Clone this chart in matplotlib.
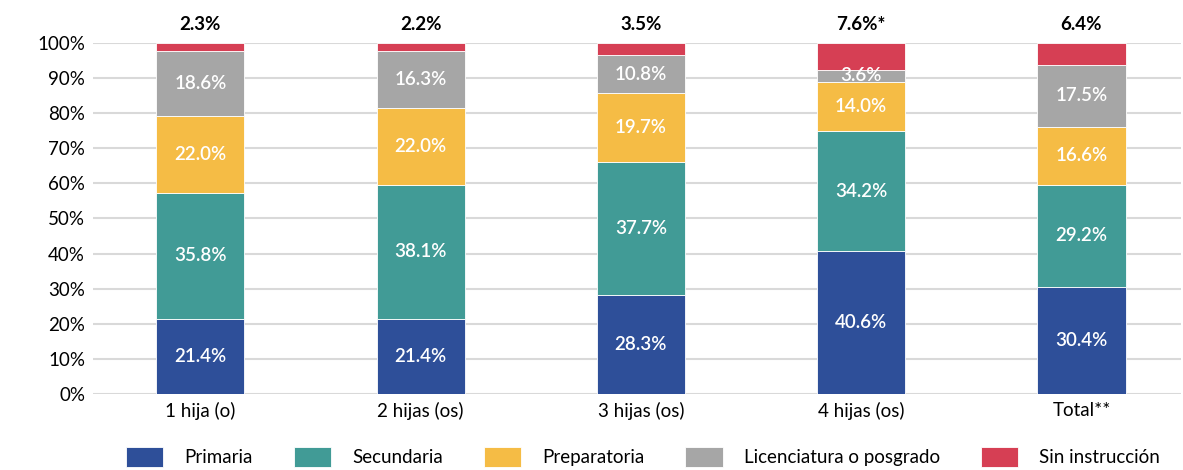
import matplotlib
matplotlib.use("Agg")
import matplotlib.pyplot as plt
import numpy as np

categorias = ["1 hija (o)", "2 hijas (os)", "3 hijas (os)", "4 hijas (os)", "Total**"]
primaria = [21.4, 21.4, 28.3, 40.6, 30.4]
secundaria = [35.8, 38.1, 37.7, 34.2, 29.2]
preparatoria = [22.0, 22.0, 19.7, 14.0, 16.6]
licenciatura = [18.6, 16.3, 10.8, 3.6, 17.5]
sin_instruccion = [2.3, 2.2, 3.5, 7.6, 6.4]
etiquetas_sup = ["2.3%", "2.2%", "3.5%", "7.6%*", "6.4%"]

series = [
    ("Primaria", primaria, "#2e4f99"),
    ("Secundaria", secundaria, "#419b96"),
    ("Preparatoria", preparatoria, "#f5bc45"),
    ("Licenciatura o posgrado", licenciatura, "#a6a6a6"),
    ("Sin instrucción", sin_instruccion, "#d63f54"),
]

plt.rcParams["font.family"] = ["Lato", "DejaVu Sans"]

fig = plt.figure(figsize=(11.83, 4.70), dpi=100)
ax = fig.add_axes([0.079, 0.162, 0.919, 0.7465])

x = np.arange(len(categorias))
base = np.zeros(len(categorias))
for i, (nombre, vals, color) in enumerate(series):
    vals = np.array(vals)
    ax.bar(x, vals, 0.4, bottom=base, color=color, label=nombre,
           edgecolor="white", linewidth=0.6, zorder=3)
    if i < 4:
        for xi, b, v in zip(x, base, vals):
            ax.text(xi, b + v / 2, f"{v:.1f}%", ha="center", va="center",
                    color="white", fontsize=13.5, fontweight="semibold", zorder=4)
    base += vals

for xi, t in zip(x, etiquetas_sup):
    ax.annotate(t, (xi, 100), xytext=(0, 7), textcoords="offset points",
                ha="center", va="bottom", fontsize=13.5, fontweight="bold")

ax.set_ylim(0, 100)
ax.set_xlim(-0.485, 4.45)
ax.set_yticks(np.arange(0, 101, 10))
ax.set_yticklabels([f"{v}%" for v in range(0, 101, 10)])
ax.set_xticks(x)
ax.set_xticklabels(categorias)
ax.tick_params(axis="both", length=0, labelsize=13.5, pad=6)
ax.grid(axis="y", color="#d9d9d9", lw=1.5, zorder=0)
for s in ax.spines.values():
    s.set_visible(False)

fig.legend(loc="lower center", bbox_to_anchor=(0.5435, -0.03), ncol=5,
           frameon=False, fontsize=13.5, handlelength=2.0, handleheight=1.3,
           columnspacing=2.2, handletextpad=1.1)

fig.savefig("out.png", dpi=100)
